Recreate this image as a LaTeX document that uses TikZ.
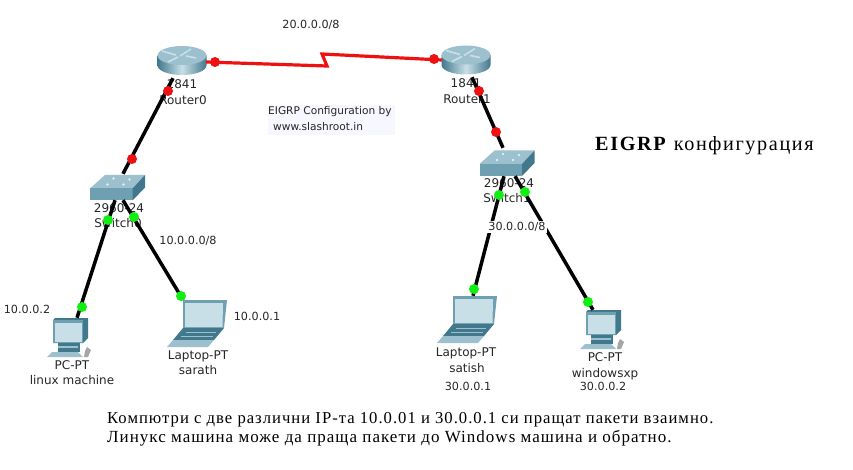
\documentclass[tikz,border=0pt]{standalone}
\usepackage{fontspec}
\setmainfont{DejaVu Sans}
\newfontfamily\capserif[LetterSpace=6]{Liberation Serif}
\newfontfamily\headserif[LetterSpace=8]{Liberation Serif}
\definecolor{teald}{HTML}{42788C}
\definecolor{tealm}{HTML}{6FA0B2}
\definecolor{teall}{HTML}{C9DFE8}
\definecolor{tealx}{HTML}{9CC0CE}
\definecolor{sred}{HTML}{EE1111}
\definecolor{sgreen}{HTML}{11EE11}
\tikzset{
  lbl/.style={font=\fontsize{12}{14}\selectfont,inner sep=0pt,text=black!85,anchor=center},
  ip/.style={font=\fontsize{11.2}{14}\selectfont,inner sep=0pt,text=black!85,anchor=center},
  cfg/.style={font=\fontsize{10.6}{12}\selectfont,inner sep=0pt,text=black!85,anchor=west},
  eth/.style={line width=3.5pt,black},
  ser/.style={line width=3.2pt,sred,line join=miter},
  rdot/.style={circle,fill=sred,inner sep=0pt,minimum size=10pt},
  gdot/.style={circle,fill=sgreen,inner sep=0pt,minimum size=10pt},
  device/.style={inner sep=0pt,minimum width=#1},
  pics/routericon/.style={code={
    \shade[left color=teald,right color=teald,middle color=teall] (-24.5,-5) -- (-24.5,5) arc[start angle=180,end angle=0,x radius=24.5,y radius=9.5] -- (24.5,-5) -- cycle;
    \fill[tealx] (0,-5) ellipse [x radius=24.5,y radius=9.5];
    \draw[teall,line width=1.6pt] (9,-11.5) -- (-2,-4.5) (-20,-9.5) -- (-6,-5.5) (-14,1.5) -- (-4,-3.5) (14,-2.5) -- (4,-4.5);
  }},
  pics/switchicon/.style={code={
    \fill[tealx] (-27.5,1) -- (-12.5,-12.5) -- (27.5,-12.5) -- (15,1) -- cycle;
    \fill[tealm] (-27.5,1) rectangle (15,13);
    \fill[teald] (15,1) -- (27.5,-12.5) -- (27.5,0) -- (15,13) -- cycle;
    \fill[white!70!tealx] (-10,-3) circle (1.3) (-4,-9) circle (1.3) (6,-3) circle (1.3) (12,-8) circle (1.3);
  }},
  pics/laptopicon/.style={code={
    \fill[tealm] (-14,-23) -- (30,-23) -- (27,5) -- (-14,7) -- cycle;
    \fill[teall] (-12,-20) -- (26,-20) -- (25.5,4) -- (-12,4) -- cycle;
    \fill[teald] (-14,5) -- (27,5) -- (17,17) -- (-24,17) -- cycle;
    \fill[tealx] (-24,17) -- (17,17) -- (11,24) -- (-30,24) -- cycle;
    \draw[tealx,line width=.8pt] (-11,9) -- (19,9) (-16,13) -- (16,13);
  }},
  pics/pcicon/.style={code={
    \fill[teald] (-15,-20) -- (18,-20) -- (18,0) -- (13,5) -- (-17,5) -- (-17,-18) -- cycle;
    \fill[tealm] (-17,-18) rectangle (13,5);
    \fill[teall] (-15,-15) rectangle (12,4);
    \fill[teald] (-12,5) rectangle (10,14);
    \fill[tealx] (-12,8) rectangle (8,10);
    \fill[tealx] (-18,14) -- (8,14) -- (13,19) -- (-23,19) -- cycle;
    \fill[black!35] (17,9) -- (21,12) -- (18,19) -- (14,19) -- (15,13) -- cycle;
  }}
}
\begin{document}
\begin{tikzpicture}[x=1pt,y=-1pt]
\useasboundingbox (0,0) rectangle (853,470);
\fill[blue!3] (268,105) rectangle (395,135);
\node[device=48pt,minimum height=30pt] (R0) at (182,60.5) {};
\node[device=48pt,minimum height=30pt] (R1) at (466,60) {};
\node[device=55pt,minimum height=25pt] (S0) at (117.5,187.5) {};
\node[device=54pt,minimum height=26pt] (S1) at (507,163) {};
\node[device=40pt,minimum height=40pt] (P0) at (70,338) {};
\node[device=40pt,minimum height=40pt] (P1) at (603,330) {};
\node[device=56pt,minimum height=47pt] (L0) at (197,323) {};
\node[device=56pt,minimum height=47pt] (L1) at (467,319) {};
\pic at (R0.center) {routericon};
\pic at (R1.center) {routericon};
\pic at (S0.center) {switchicon};
\pic at (S1.center) {switchicon};
\pic at (P0.center) {pcicon};
\pic at (P1.center) {pcicon};
\pic at (L0.center) {laptopicon};
\pic at (L1.center) {laptopicon};
\node[lbl] (t1) at (182,84) {1841};
\node[lbl] (t2) at (183,100) {Router0};
\node[lbl] (t3) at (466,83) {1841};
\node[lbl] (t4) at (467,99) {Router1};
\node[lbl] (t5) at (119,208) {2960-24};
\node[lbl] (t6) at (118,223) {Switch0};
\node[lbl] (t7) at (509,183) {2960-24};
\node[lbl] (t8) at (507,198) {Switch1};
\node[lbl] (t9) at (72,365) {PC-PT};
\node[lbl] (t10) at (72,380) {linux machine};
\node[lbl] (t11) at (198,356) {Laptop-PT};
\node[lbl] (t12) at (198,370) {sarath};
\node[lbl] (t13) at (466,353) {Laptop-PT};
\node[lbl] (t14) at (467,368) {satish};
\node[ip] (t15) at (468,386) {30.0.0.1};
\node[lbl] (t16) at (605,357) {PC-PT};
\node[lbl] (t17) at (605,374) {windowsxp};
\node[ip] (t18) at (603,386) {30.0.0.2};
\node[ip] (t19) at (311,25) {20.0.0.0/8};
\node[ip] (t20) at (188,241) {10.0.0.0/8};
\node[ip] (t21) at (27,309) {10.0.0.2};
\node[ip] (t22) at (257,316) {10.0.0.1};
\node[cfg] (t23) at (268,112) {EIGRP Configuration by};
\node[cfg] (t24) at (273,127) {www.slashroot.in};
\coordinate (z1) at (327,66);
\coordinate (z2) at (322,54);
\draw[ser] ([yshift=-1.5pt]R0.east) -- (z1) -- (z2) -- (R1.west);
\draw[eth] ([shift={(-9pt,-2.5pt)}]R0.south) -- ([shift={(5.5pt,1pt)}]S0.north);
\draw[eth] ([shift={(6pt,-2pt)}]R1.south) -- ([shift={(-4pt,2pt)}]S1.north);
\draw[eth] ([xshift=-2.5pt]S0.south) -- ([xshift=7pt]P0.north);
\draw[eth] ([xshift=5.5pt]S0.south) -- ([shift={(-14pt,-.5pt)}]L0.north);
\draw[eth] ([xshift=-3pt]S1.south) -- ([shift={(6pt,-.5pt)}]L1.north);
\draw[eth] ([xshift=8pt]S1.south) -- ([xshift=-10pt]P1.north);
\node[ip,fill=white,inner xsep=1pt,inner ysep=1pt] (t25) at (517,227) {30.0.0.0/8};
\node[rdot] (d1) at (215,62) {};
\node[rdot] (d2) at (434,59) {};
\node[rdot] (d3) at (168,91) {};
\node[rdot] (d4) at (132,159) {};
\node[rdot] (d5) at (479,91) {};
\node[rdot] (d6) at (496,132) {};
\node[gdot] (d7) at (108,220) {};
\node[gdot] (d8) at (134,217) {};
\node[gdot] (d9) at (82,307) {};
\node[gdot] (d10) at (181,296) {};
\node[gdot] (d11) at (499,195) {};
\node[gdot] (d12) at (525,192) {};
\node[gdot] (d13) at (474,289) {};
\node[gdot] (d14) at (588,302) {};
\node[inner sep=0pt,anchor=west,font=\headserif\fontsize{20.2}{22}\selectfont] (c1) at (595,146) {\textbf{EIGRP} конфигурация};
\node[inner sep=0pt,anchor=west,font=\capserif\fontsize{16.67}{18}\selectfont] (c2) at (107,420) {Компютри с две различни IP-та 10.0.01 и 30.0.0.1 си пращат пакети взаимно.};
\node[inner sep=0pt,anchor=west,font=\capserif\fontsize{17}{18}\selectfont] (c3) at (107,438) {Линукс машина може да праща пакети до Windows машина и обратно.};
\end{tikzpicture}
\end{document}
